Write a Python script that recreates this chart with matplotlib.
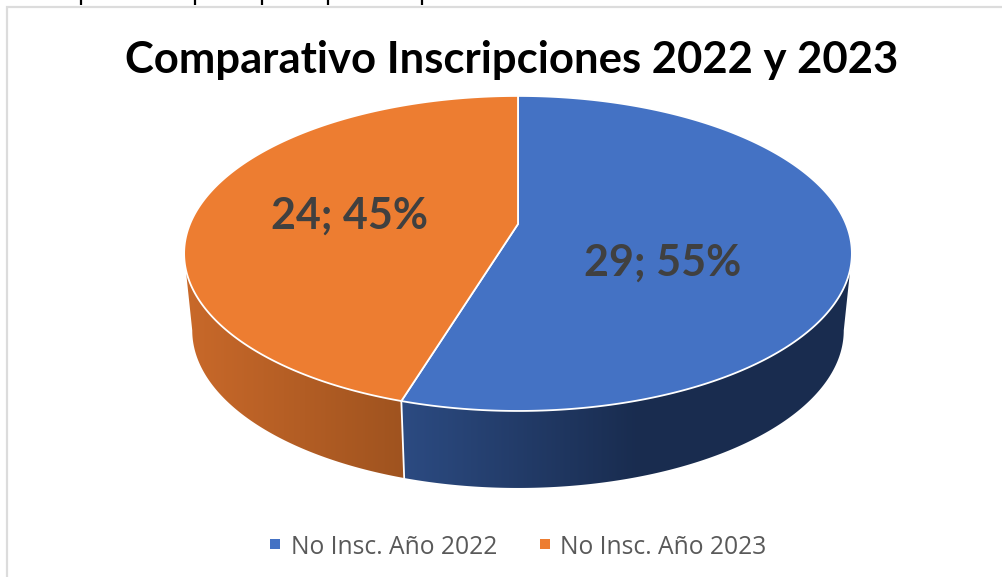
# Comparativo inscripciones, pie drawn in fake 3D
import numpy as np
import matplotlib
matplotlib.use('Agg')
import matplotlib.pyplot as plt
from matplotlib.colors import LinearSegmentedColormap
from matplotlib.patches import Polygon, Rectangle

title = 'Comparativo Inscripciones 2022 y 2023'
labels = ['No Insc. Año 2022', 'No Insc. Año 2023']
values = [29, 24]
top_colors = ['#4472C4', '#ED7D31']
side_colors = [['#2C4B82', '#192C4F'], ['#C9692A', '#9F531F']]

# Projection of the tilted disc, in picture pixels
cx, cy = 518, 224
k = 0.187


def project(theta, b=328, a=152, y0=cy):
    # theta is clockwise from twelve o'clock, in degrees
    t = np.radians(theta)
    d = 1 + k * np.cos(t)
    return cx + b * np.sin(t) / d, y0 - a * np.cos(t) / d


def wall(theta):
    x1, y1 = project(theta)
    x2, y2 = project(theta, b=320, y0=301)
    return np.r_[x1, x2[::-1]], np.r_[y1, y2[::-1]]


fig = plt.figure(figsize=(10.03, 5.77), dpi=100)
ax = fig.add_axes([0, 0, 1, 1])
ax.set_xlim(0, 1003)
ax.set_ylim(577, 0)
ax.axis('off')

# Frame of the sheet and bits of cropped text above it
ax.add_patch(Rectangle((7, 7), 1100, 700, fc='white', ec='#DCDCDC', lw=1.6))
for x in [81, 195, 262, 328, 422]:
    ax.plot([x, x], [0, 5], color='black', lw=1.6, solid_capstyle='butt')

# Slice angles from the values
shares = np.array(values) / sum(values)
edges = np.r_[0, np.cumsum(shares)] * 360

# Side walls
blue_end = edges[1]
wall_ranges = [(100.8, blue_end), (blue_end, 259.2)]
for (start, end), cols in zip(wall_ranges, side_colors):
    xs, ys = wall(np.linspace(start, end, 200))
    poly = Polygon(np.c_[xs, ys], closed=True, fc='none', ec='none')
    ax.add_patch(poly)
    if start == 100.8:
        grad = np.linspace(0, 1, 256).reshape(1, -1)[:, ::-1]
        extent = [xs.min(), 640, 500, 240]
        cmap = LinearSegmentedColormap.from_list('s', [cols[1], cols[0]])
        im = ax.imshow(grad, cmap=cmap, extent=extent, aspect='auto', zorder=2)
        im2 = ax.add_patch(Rectangle((640, 240), 260, 260, fc=cols[1], ec='none', zorder=2))
        im2.set_clip_path(poly)
    else:
        grad = np.linspace(0, 1, 256).reshape(1, -1)
        extent = [xs.min(), xs.max(), 500, 240]
        cmap = LinearSegmentedColormap.from_list('s', cols)
        im = ax.imshow(grad, cmap=cmap, extent=extent, aspect='auto', zorder=2)
    im.set_clip_path(poly)
ax.set_xlim(0, 1003)
ax.set_ylim(577, 0)

# Seam between the two walls
sx1, sy1 = project(blue_end)
sx2, sy2 = project(blue_end, b=320, y0=301)
ax.plot([sx1, sx2], [sy1, sy2], color='white', lw=1.3, zorder=3)

# Top face
for i in range(len(values)):
    th = np.linspace(edges[i], edges[i + 1], 300)
    x, y = project(th)
    ax.fill(np.r_[cx, x], np.r_[cy, y], fc=top_colors[i], ec='white', lw=1.3,
            joinstyle='round', zorder=4)

# Data labels
label_pos = [(663, 263), (350, 216)]
for v, s, (x, y) in zip(values, shares, label_pos):
    ax.text(x, y, f'{v}; {s * 100:.0f}%', ha='center', va='center', color='#404040',
            fontsize=31, fontweight='bold', family='Lato', zorder=5)

ax.text(511.5, 60, title, ha='center', va='center', color='black', fontsize=31.4,
        fontweight='bold', family='Lato')

# Legend
legend_x = [(275, 291), (545, 560)]
for (sq, tx), lab, c in zip(legend_x, labels, top_colors):
    ax.add_patch(Rectangle((sq - 5, 539), 10, 10, fc=c, ec='none'))
    ax.text(tx, 544, lab, ha='left', va='center_baseline', color='#595959', fontsize=17.7,
            family='Open Sans')

fig.savefig('out.png', dpi=100)
